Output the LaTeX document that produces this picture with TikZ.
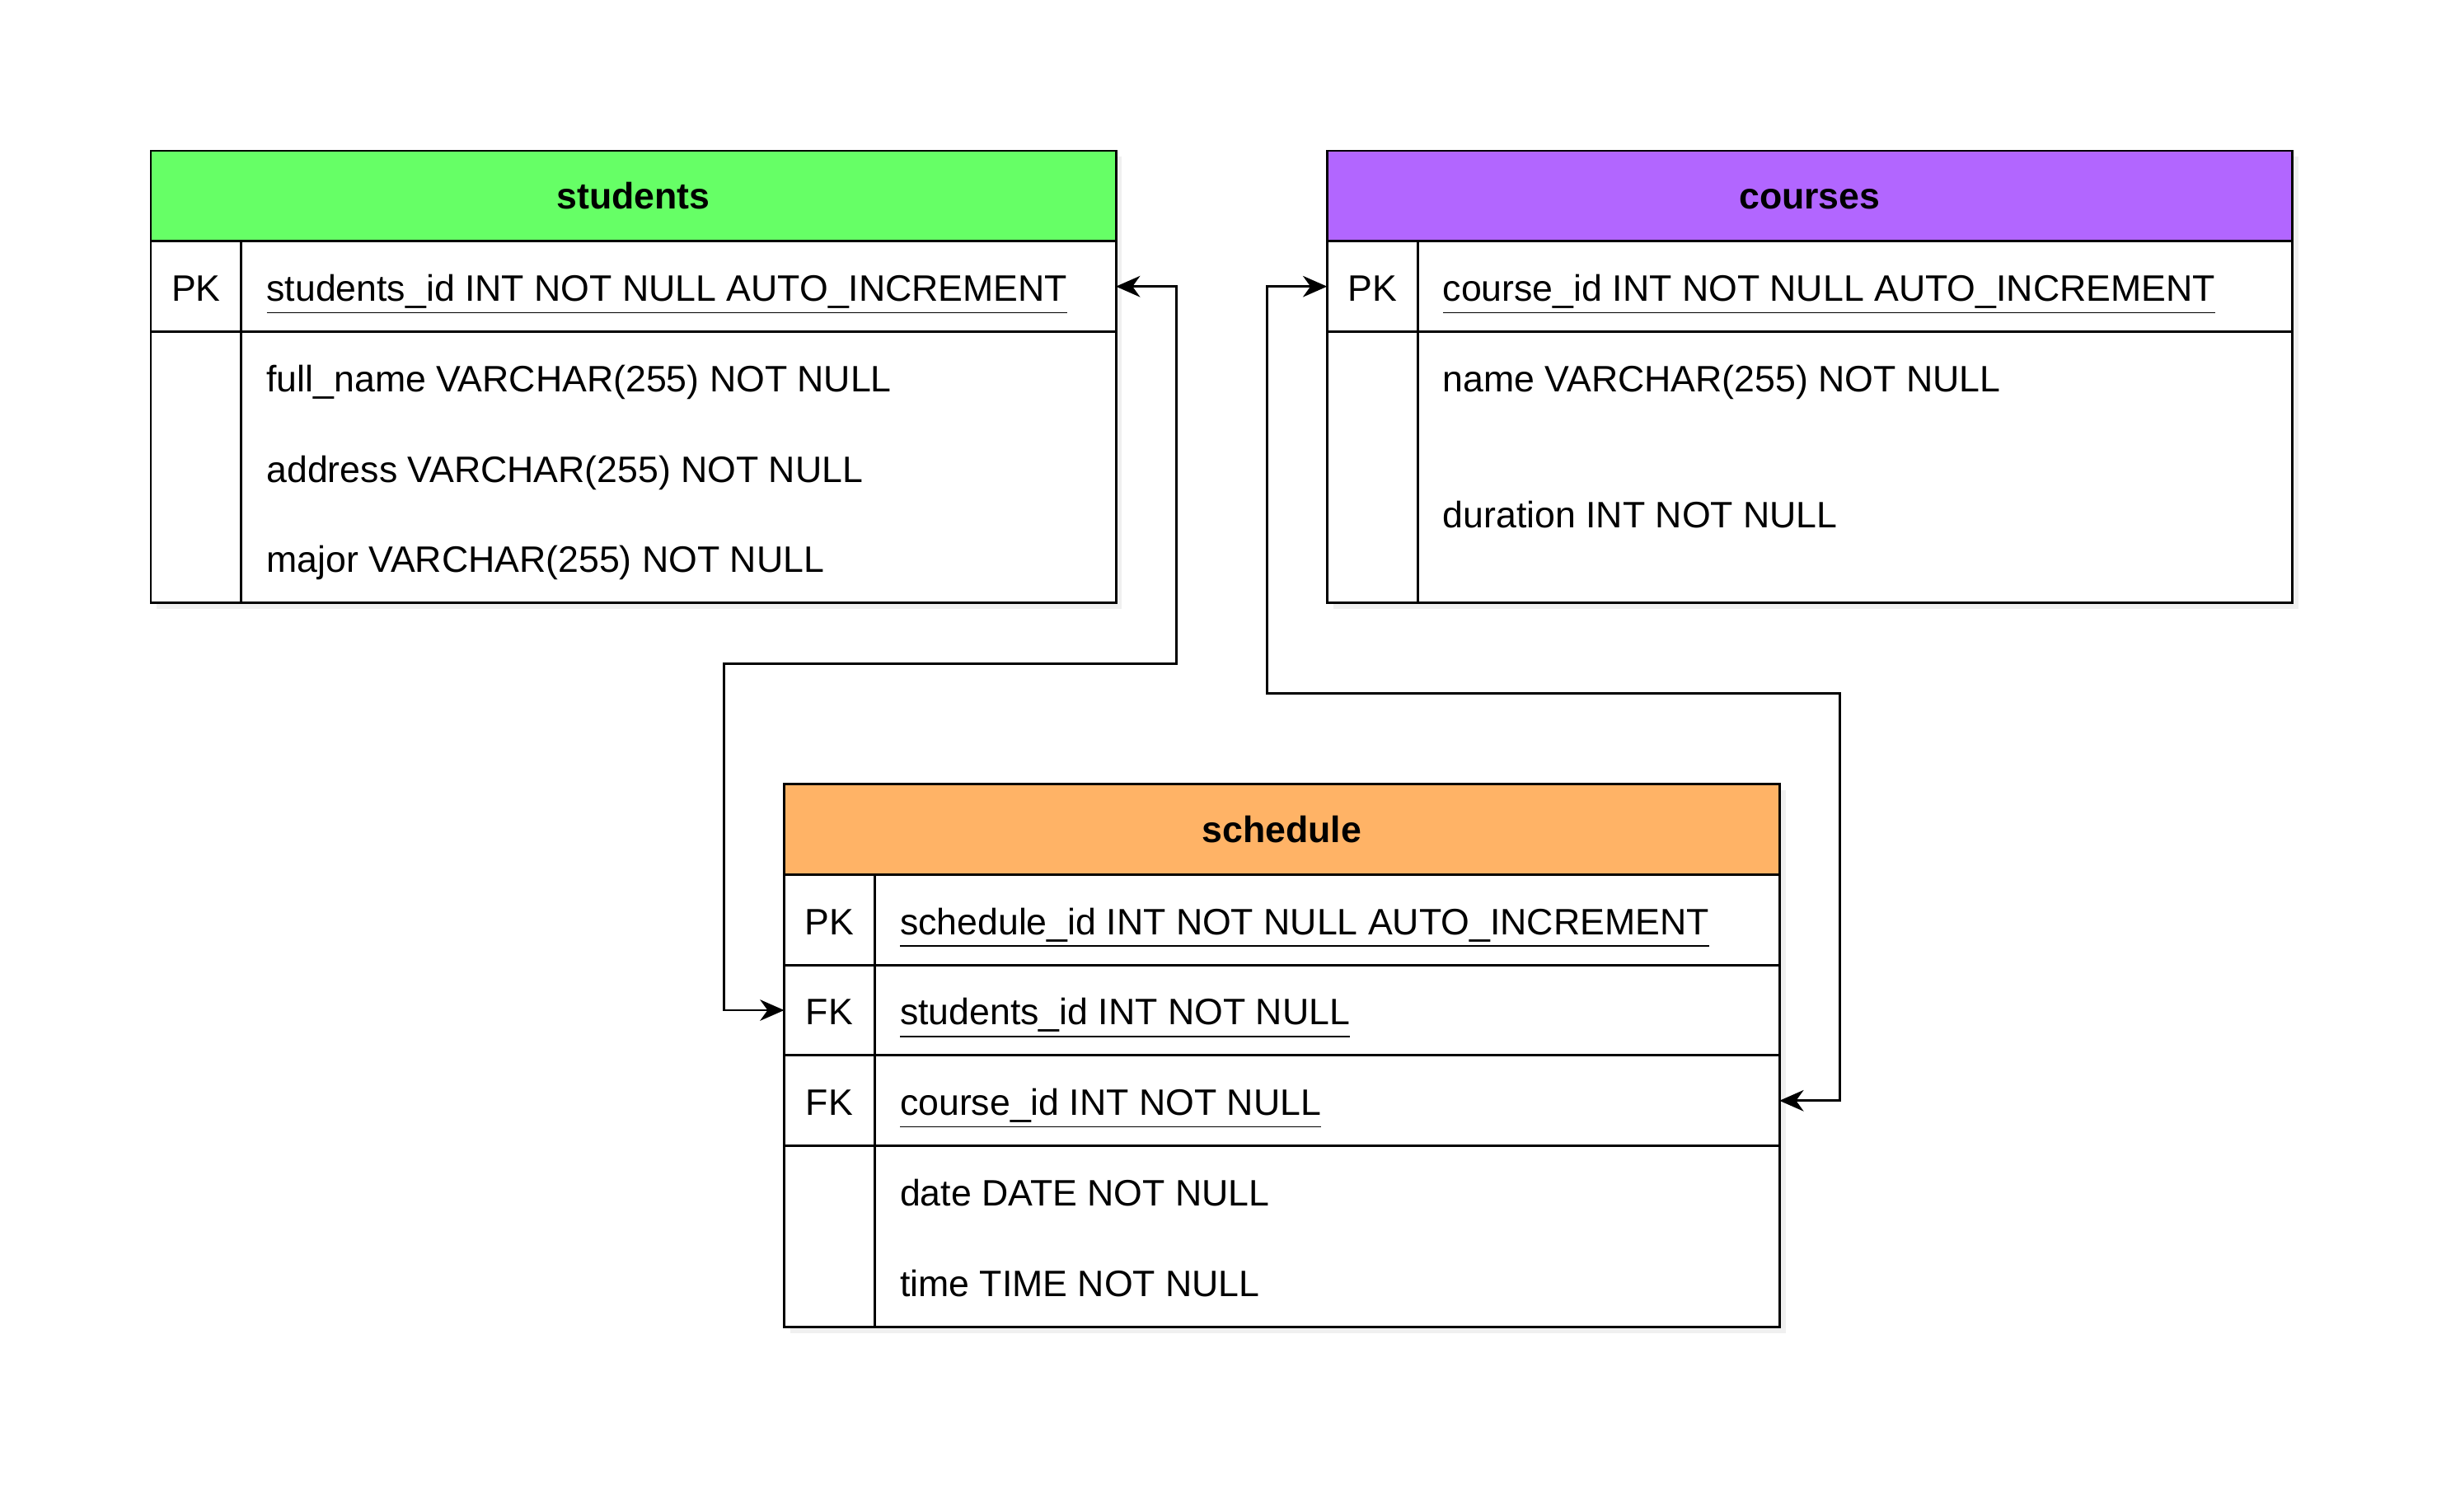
\documentclass[tikz,border=0pt]{standalone}
\usepackage{fontspec}
\setmainfont{Liberation Sans}
\usetikzlibrary{arrows.meta,shadows,positioning}

\definecolor{stuhead}{HTML}{66FF66}
\definecolor{couhead}{HTML}{B266FF}
\definecolor{schhead}{HTML}{FFB366}
\newcommand{\erdfont}{\fontsize{12.2pt}{15pt}\selectfont}

\begin{document}
\begin{tikzpicture}[x=1pt,y=-1pt,line width=0.8pt,font=\erdfont,
    cell/.style={draw,fill=white,rectangle,inner sep=0pt,outer sep=0pt,anchor=north west,
      drop shadow={opacity=0.12,shadow xshift=2pt,shadow yshift=-2pt}},
    tblhead/.style={cell,font=\erdfont\bfseries,minimum height=30pt,text height=8.8pt,text depth=0pt},
    keytxt/.style={inner sep=0pt,text height=8.8pt,text depth=0pt},
    field/.style={anchor=west,inner sep=0pt,text height=8.8pt,text depth=0pt},
    relation/.style={{Stealth[length=8pt,width=7pt,inset=2.5pt]}-{Stealth[length=8pt,width=7pt,inset=2.5pt]}}]
  \useasboundingbox (0,0) rectangle (811,501.4);
  % \draw[help lines,step=10] (0,0) grid (811,501);

  % students
  \node[tblhead,fill=stuhead,minimum width=320pt] (stu) at (50,50) {students};
  \node[cell,minimum width=320pt,minimum height=30pt,below=0pt of stu] (stu-pk) {};
  \node[cell,minimum width=320pt,minimum height=90pt,below=0pt of stu-pk] (stu-body) {};
  \draw ([xshift=30pt]stu-pk.north west) -- ([xshift=30pt]stu-body.south west);
  \node[keytxt] at (65,95.5) {PK};
  \node[field] at (88,95.5) {\underline{students\_id INT NOT NULL AUTO\_INCREMENT}};
  \node[field] at (88,125.5) {full\_name VARCHAR(255) NOT NULL};
  \node[field] at (88,155.5) {address VARCHAR(255) NOT NULL};
  \node[field] at (88,185.5) {major VARCHAR(255) NOT NULL};

  % courses
  \node[tblhead,fill=couhead,minimum width=320pt] (cou) at (440,50) {courses};
  \node[cell,minimum width=320pt,minimum height=30pt,below=0pt of cou] (cou-pk) {};
  \node[cell,minimum width=320pt,minimum height=90pt,below=0pt of cou-pk] (cou-body) {};
  \draw ([xshift=30pt]cou-pk.north west) -- ([xshift=30pt]cou-body.south west);
  \node[keytxt] at (455,95.5) {PK};
  \node[field] at (478,95.5) {\underline{course\_id INT NOT NULL AUTO\_INCREMENT}};
  \node[field] at (478,125.5) {name VARCHAR(255) NOT NULL};
  \node[field] at (478,170.5) {duration INT NOT NULL};

  % schedule
  \node[tblhead,fill=schhead,minimum width=330pt] (sch) at (260,260) {schedule};
  \node[cell,minimum width=330pt,minimum height=30pt,below=0pt of sch] (sch-pk) {};
  \node[cell,minimum width=330pt,minimum height=30pt,below=0pt of sch-pk] (sch-fk1) {};
  \node[cell,minimum width=330pt,minimum height=30pt,below=0pt of sch-fk1] (sch-fk2) {};
  \node[cell,minimum width=330pt,minimum height=60pt,below=0pt of sch-fk2] (sch-body) {};
  \draw ([xshift=30pt]sch-pk.north west) -- ([xshift=30pt]sch-body.south west);
  \node[keytxt] at (275,305.5) {PK};
  \node[keytxt] at (275,335.5) {FK};
  \node[keytxt] at (275,365.5) {FK};
  \node[field] at (298,305.5) {\underline{schedule\_id INT NOT NULL AUTO\_INCREMENT}};
  \node[field] at (298,335.5) {\underline{students\_id INT NOT NULL}};
  \node[field] at (298,365.5) {\underline{course\_id INT NOT NULL}};
  \node[field] at (298,395.5) {date DATE NOT NULL};
  \node[field] at (298,425.5) {time TIME NOT NULL};

  % relations
  \draw[relation] (stu-pk.east) -- ++(20,0) |- (240,220) |- (sch-fk1.west);
  \draw[relation] (cou-pk.west) -- ++(-20,0) |- (610,230) |- (sch-fk2.east);
\end{tikzpicture}
\end{document}
